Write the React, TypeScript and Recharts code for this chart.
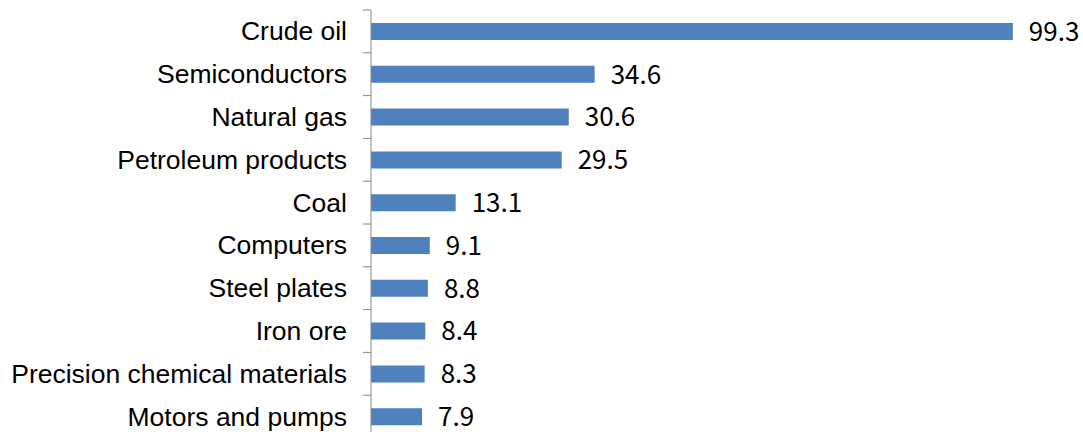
import React from 'react';
import { BarChart, Bar, XAxis, YAxis, LabelList } from 'recharts';

const categories = [
  'Crude oil',
  'Semiconductors',
  'Natural gas',
  'Petroleum products',
  'Coal',
  'Computers',
  'Steel plates',
  'Iron ore',
  'Precision chemical materials',
  'Motors and pumps',
];

const values = [99.3, 34.6, 30.6, 29.5, 13.1, 9.1, 8.8, 8.4, 8.3, 7.9];

const data = categories.map((name, i) => ({ name, value: values[i] }));

const WIDTH = 1083;
const HEIGHT = 438;
const TOP = 10;
const BAND = (HEIGHT - TOP) / categories.length;

const CategoryTick = (props: any) => {
  const { x, y, payload } = props;
  return (
    <g>
      <line x1={x - 8} x2={x} y1={y - BAND / 2} y2={y - BAND / 2} stroke="#868686" strokeWidth={1} />
      <text
        x={x - 24}
        y={y}
        textAnchor="end"
        dominantBaseline="central"
        fill="#000"
        fontSize={26.5}
        fontFamily="'Liberation Sans', Arial, sans-serif"
      >
        {payload.value}
      </text>
    </g>
  );
};

export default function App() {
  return (
    <div style={{ position: 'absolute', left: 0, top: 0, width: WIDTH, height: 432, overflow: 'hidden', background: '#fff' }}>
      <BarChart
        width={WIDTH}
        height={HEIGHT}
        data={data}
        layout="vertical"
        margin={{ top: TOP, right: 1, bottom: 0, left: 0 }}
        barCategoryGap={0}
      >
        <XAxis type="number" domain={[0, 110]} hide />
        <YAxis
          type="category"
          dataKey="name"
          width={371}
          axisLine={{ stroke: '#868686', strokeWidth: 1 }}
          tickLine={false}
          tickSize={0}
          tickMargin={0}
          interval={0}
          tick={<CategoryTick />}
        />
        <Bar dataKey="value" fill="#4F81BD" barSize={17} isAnimationActive={false}>
          <LabelList
            dataKey="value"
            position="right"
            offset={16}
            fill="#000"
            fontSize={26}
            fontFamily="'Noto Sans CJK KR', 'Noto Sans', sans-serif"
          />
        </Bar>
      </BarChart>
    </div>
  );
}
